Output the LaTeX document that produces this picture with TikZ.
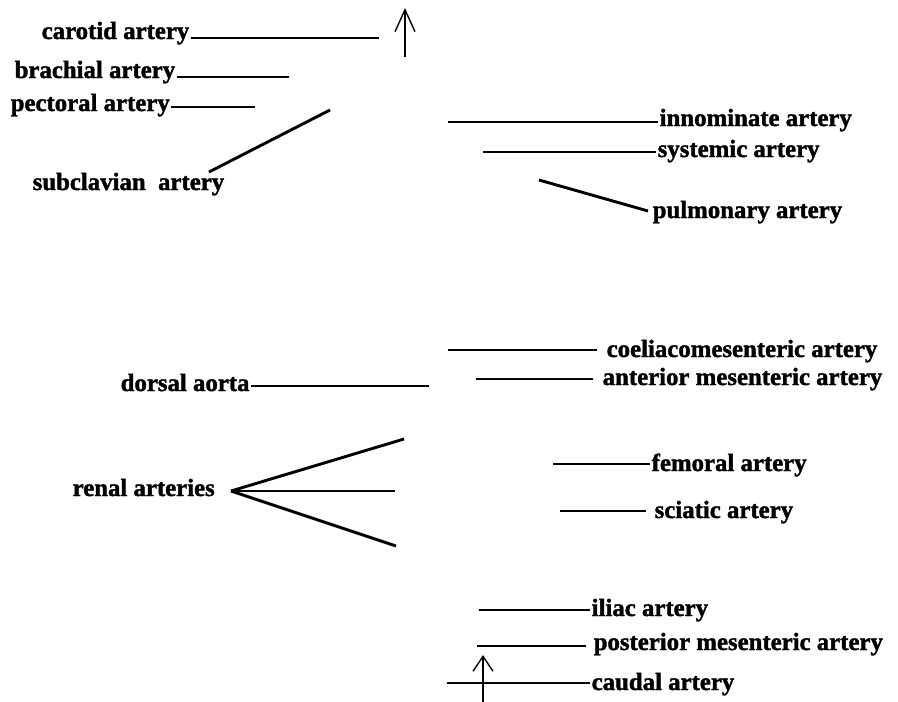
\documentclass[tikz,border=0pt]{standalone}
\usepackage{fontspec}
\setmainfont{Liberation Serif}
\newfontfamily\lblfont{Liberation Serif Bold}[FakeBold=1.5]
\usetikzlibrary{arrows.meta}
\tikzset{
  lbl/.style={anchor=base west, inner xsep=1.5pt, inner ysep=0pt, font=\fontsize{24.8}{28}\lblfont},
  lblr/.style={lbl, anchor=base east},
  conn/.style={line width=2.9pt},
  arr/.style={line width=1.4pt, -{Straight Barb[length=#1pt, width=20pt, line width=1.4pt]}}
}
\begin{document}
\begin{tikzpicture}[x=1pt,y=-1pt]
\useasboundingbox (0,0) rectangle (898,702);
% left labels
\node[lbl] (carotid) at (40,39) {carotid artery};
\node[lbl] (brachial) at (13,78) {brachial artery};
\node[lbl] (pectoral) at (9,111) {pectoral artery};
\node[lbl] (subclavian) at (31,190) {subclavian\ \ artery};
\node[lbl] (dorsal) at (119,391) {dorsal aorta};
\node[lbl] (renal) at (71,496) {renal arteries};
% right labels
\node[lbl] (innominate) at (658,126) {innominate artery};
\node[lbl] (systemic) at (656,157) {systemic artery};
\node[lbl] (pulmonary) at (651,218) {pulmonary artery};
\node[lbl] (coeliaco) at (605,357) {coeliacomesenteric artery};
\node[lbl] (antmes) at (601,385) {anterior mesenteric artery};
\node[lbl] (femoral) at (650,471) {femoral artery};
\node[lbl] (sciatic) at (653,518) {sciatic artery};
\node[lbl] (iliac) at (590,616) {iliac artery};
\node[lbl] (postmes) at (592,650) {posterior mesenteric artery};
\node[lbl] (caudal) at (590,690) {caudal artery};
% free ends
\coordinate (cE) at (379,38);
\coordinate (bE) at (289,77);
\coordinate (pE) at (255,107);
\coordinate (sA) at (330,110);
\coordinate (sB) at (209,172);
\coordinate (iA) at (448,122);
\coordinate (syA) at (483,152);
\coordinate (puA) at (539,180);
\coordinate (puB) at (648,211);
\coordinate (coA) at (448,350);
\coordinate (amA) at (476,379);
\coordinate (dE) at (429,386);
\coordinate (rApex) at (231,491);
\coordinate (r1) at (404,439);
\coordinate (r2) at (395,491);
\coordinate (r3) at (396,546);
\coordinate (fA) at (553,464);
\coordinate (scA) at (560,511);
\coordinate (ilA) at (479,610);
\coordinate (pmA) at (477,646);
\coordinate (caA) at (447,683);
\coordinate (topS) at (405,57);
\coordinate (topT) at (405,8);
\coordinate (botS) at (483,702);
\coordinate (botT) at (483,655);
% connectors
\draw[conn] (carotid.east |- cE) -- (cE);
\draw[conn] (brachial.east |- bE) -- (bE);
\draw[conn] (pectoral.east |- pE) -- (pE);
\draw[conn] (sA) -- (sB);
\draw[conn] (iA) -- (iA -| innominate.west);
\draw[conn] (syA) -- (syA -| systemic.west);
\draw[conn] (puA) -- (puB);
\draw[conn] (coA) -- (597,350);
\draw[conn] (amA) -- (593,379);
\draw[conn] (dorsal.east |- dE) -- (dE);
\draw[conn] (rApex) -- (r1);
\draw[conn] (rApex) -- (r2);
\draw[conn] (rApex) -- (r3);
\draw[conn] (fA) -- (fA -| femoral.west);
\draw[conn] (scA) -- (646,511);
\draw[conn] (ilA) -- (ilA -| iliac.west);
\draw[conn] (pmA) -- (586,646);
\draw[conn] (caA) -- (caA -| caudal.west);
% arrows
\draw[arr=22] (topS) -- (topT);
\draw[arr=15] (botS) -- (botT);
\end{tikzpicture}
\end{document}
